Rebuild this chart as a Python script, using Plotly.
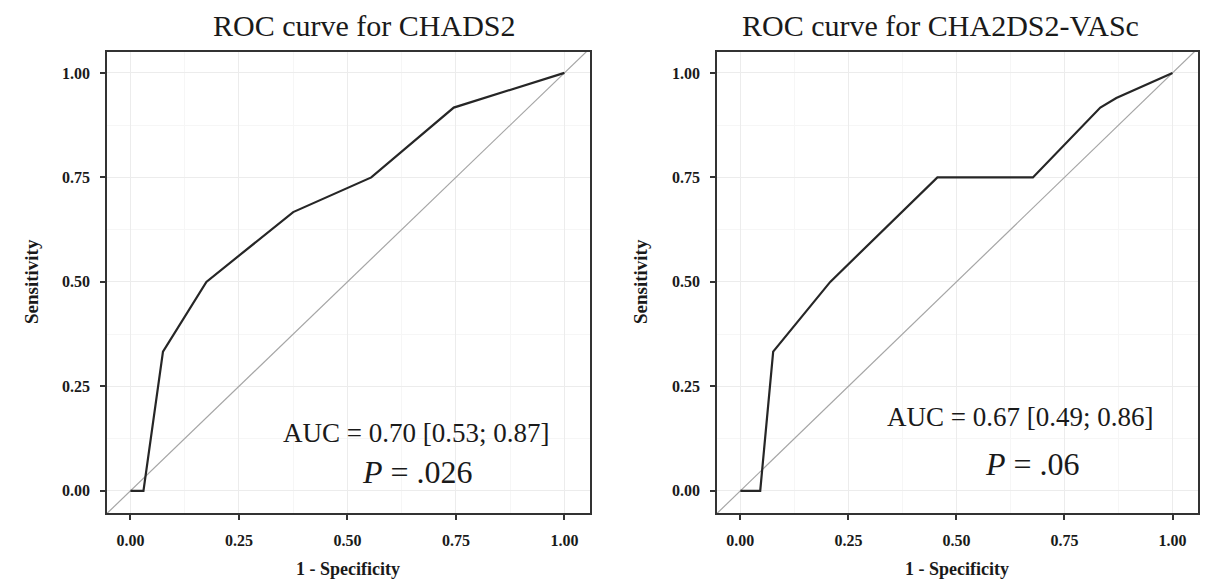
import plotly.graph_objects as go

# ROC curve for CHADS2
chads_fpr = [0.0, 0.03, 0.075, 0.175, 0.375, 0.555, 0.745, 1.0]
chads_tpr = [0.0, 0.0, 0.333, 0.5, 0.667, 0.75, 0.917, 1.0]

# ROC curve for CHA2DS2-VASc
vasc_fpr = [0.0, 0.046, 0.076, 0.208, 0.456, 0.677, 0.833, 0.87, 1.0]
vasc_tpr = [0.0, 0.0, 0.333, 0.5, 0.75, 0.75, 0.917, 0.94, 1.0]

# Reference (chance) line y = x
ref_line = [-0.2, 1.2]

tick_vals = [0.0, 0.25, 0.5, 0.75, 1.0]
tick_text = ["0.00", "0.25", "0.50", "0.75", "1.00"]

titles = ["ROC curve for CHADS2", "ROC curve for CHA2DS2-VASc"]
auc_texts = ["AUC = 0.70 [0.53; 0.87]", "AUC = 0.67 [0.49; 0.86]"]
p_texts = ["<i>P</i> = .026", "<i>P</i> = .06"]

W, H = 1210, 581


def px(xp):
    return xp / W


def py(yp):
    return 1 - yp / H


SERIF = "Liberation Serif, Times New Roman, serif"
CURVE = "#262626"
DIAG = "#a6a6a6"
AXC = "#333333"

fig = go.Figure()

for i, (fx, ty) in enumerate([(chads_fpr, chads_tpr), (vasc_fpr, vasc_tpr)]):
    xa = "x" if i == 0 else "x2"
    ya = "y" if i == 0 else "y2"
    fig.add_trace(go.Scatter(x=ref_line, y=ref_line, mode="lines",
                             line=dict(color=DIAG, width=1.2),
                             xaxis=xa, yaxis=ya, showlegend=False, hoverinfo="skip"))
    fig.add_trace(go.Scatter(x=fx, y=ty, mode="lines",
                             line=dict(color=CURVE, width=2.2),
                             xaxis=xa, yaxis=ya, showlegend=False))

x_domains = [[px(107), px(590)], [px(717), px(1198)]]
y_domain = [py(513), py(52)]

axis_common = dict(
    tickmode="array", tickvals=tick_vals, ticktext=tick_text,
    showgrid=True, gridcolor="#ececec", gridwidth=1,
    zeroline=False, showline=True, linecolor=AXC, linewidth=1.8, mirror=True,
    ticks="outside", ticklen=5, tickwidth=1.5, tickcolor=AXC,
    tickfont=dict(family=SERIF, size=16, color="#1a1a1a", weight="bold"),
    ticklabelstandoff=7,
    minor=dict(showgrid=True, gridcolor="#f6f6f6", gridwidth=1, tickvals=[0.125, 0.375, 0.625, 0.875]),
)

fig.update_layout(
    width=W, height=H,
    margin=dict(l=0, r=0, t=0, b=0),
    paper_bgcolor="white", plot_bgcolor="white",
    showlegend=False,
)
fig.update_layout(
    xaxis=dict(domain=x_domains[0], range=[-0.054, 1.059], anchor="y", **axis_common),
    yaxis=dict(domain=y_domain, range=[-0.053, 1.050], anchor="x", **axis_common),
    xaxis2=dict(domain=x_domains[1], range=[-0.054, 1.059], anchor="y2", **axis_common),
    yaxis2=dict(domain=y_domain, range=[-0.053, 1.050], anchor="x2", **axis_common),
)

annotations = []
title_x = [364, 940]
xlab_x = [348, 957]
ylab_x = [32, 641]
auc_pos = [(0.658, 0.139), (0.648, 0.177)]
p_pos = [(0.662, 0.045), (0.675, 0.065)]
for i in range(2):
    xr = "x" if i == 0 else "x2"
    yr = "y" if i == 0 else "y2"
    annotations.append(dict(text=titles[i], x=px(title_x[i]), y=py(25), xref="paper", yref="paper",
                            showarrow=False, xanchor="center", yanchor="middle",
                            font=dict(family=SERIF, size=30, color="#1a1a1a")))
    annotations.append(dict(text="1 - Specificity", x=px(xlab_x[i]), y=py(569), xref="paper", yref="paper",
                            showarrow=False, xanchor="center", yanchor="middle",
                            font=dict(family=SERIF, size=18, color="#1a1a1a", weight="bold")))
    annotations.append(dict(text="Sensitivity", x=px(ylab_x[i]), y=py(282), xref="paper", yref="paper",
                            showarrow=False, xanchor="center", yanchor="middle", textangle=-90,
                            font=dict(family=SERIF, size=19, color="#1a1a1a", weight="bold")))
    annotations.append(dict(text=auc_texts[i], x=auc_pos[i][0], y=auc_pos[i][1], xref=xr, yref=yr,
                            showarrow=False, xanchor="center", yanchor="middle",
                            font=dict(family=SERIF, size=27, color="#1a1a1a")))
    annotations.append(dict(text=p_texts[i], x=p_pos[i][0], y=p_pos[i][1], xref=xr, yref=yr,
                            showarrow=False, xanchor="center", yanchor="middle",
                            font=dict(family=SERIF, size=32, color="#1a1a1a")))

fig.update_layout(annotations=annotations)
fig.write_html(
    "out.html",
    config={"displayModeBar": False},
    post_script="document.body.style.margin='0';document.body.style.overflow='hidden';",
)
